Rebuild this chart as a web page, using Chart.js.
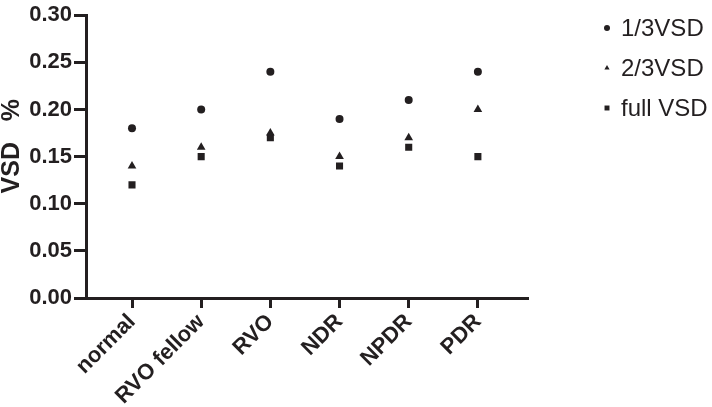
<!DOCTYPE html>
<html>
<head>
<meta charset="utf-8">
<script src="https://cdn.jsdelivr.net/npm/chart.js"></script>
<style>
  html, body { margin: 0; padding: 0; background: #fff; }
  #wrap { width: 712px; height: 407px; position: relative; }
</style>
</head>
<body>
<div id="wrap"><canvas id="myChart"></canvas></div>
<script>
// data
var categories = ['normal', 'RVO fellow', 'RVO', 'NDR', 'NPDR', 'PDR'];
var seriesNames = ['1/3VSD', '2/3VSD', 'full VSD'];
var vsdThird = [0.18, 0.20, 0.24, 0.19, 0.21, 0.24];
var vsdTwoThird = [0.14, 0.16, 0.175, 0.15, 0.17, 0.20];
var vsdFull = [0.12, 0.15, 0.17, 0.14, 0.16, 0.15];
var yMin = 0, yMax = 0.30, yStep = 0.05;

var ink = '#231f20';
var font = '"Liberation Sans", Arial, Helvetica, sans-serif';

function toPoints(vals) {
  return vals.map(function (v, i) { return { x: i + 1, y: v }; });
}

// legend drawn by hand so the plot keeps its width
var sideLegend = {
  id: 'sideLegend',
  afterDraw: function (chart) {
    var ctx = chart.ctx;
    ctx.save();
    chart.data.datasets.forEach(function (ds, i) {
      var y = 28 + i * 40;
      ctx.fillStyle = ink;
      ctx.strokeStyle = ink;
      Chart.helpers.drawPoint(ctx, {
        pointStyle: ds.pointStyle, radius: ds.pointStyle === 'rect' ? 3.5 : 3, borderWidth: 0
      }, 607, y);
      ctx.font = '24px ' + font;
      ctx.textBaseline = 'middle';
      ctx.textAlign = 'left';
      ctx.fillText(ds.label, 621, y + 1);
    });
    ctx.restore();
  }
};

var ctx = document.getElementById('myChart').getContext('2d');
var chart = new Chart(ctx, {
  type: 'scatter',
  data: {
    datasets: [
      { label: seriesNames[0], data: toPoints(vsdThird), pointStyle: 'circle', pointRadius: 4 },
      { label: seriesNames[1], data: toPoints(vsdTwoThird), pointStyle: 'triangle', pointRadius: 5 },
      { label: seriesNames[2], data: toPoints(vsdFull), pointStyle: 'rect', pointRadius: 5 }
    ].map(function (d) {
      d.backgroundColor = ink;
      d.borderColor = ink;
      d.borderWidth = 0;
      d.pointHoverRadius = d.pointRadius;
      return d;
    })
  },
  options: {
    responsive: true,
    maintainAspectRatio: false,
    animation: false,
    layout: { padding: { top: 15, right: 185, bottom: 0, left: 0 } },
    plugins: {
      legend: { display: false },
      tooltip: { enabled: false }
    },
    scales: {
      x: {
        type: 'linear',
        min: 0.335,
        max: 6.71,
        afterBuildTicks: function (scale) {
          scale.ticks = categories.map(function (c, i) { return { value: i + 1 }; });
        },
        afterFit: function (scale) { scale.height = 109; },
        border: { display: true, width: 3, color: ink },
        grid: { display: true, drawOnChartArea: false, drawTicks: true, tickLength: 10, lineWidth: 3, color: ink },
        ticks: {
          autoSkip: false,
          minRotation: 45,
          maxRotation: 45,
          padding: 1,
          color: ink,
          font: { family: font, size: 22, weight: 'bold' },
          callback: function (v) { return categories[Math.round(v) - 1]; }
        }
      },
      y: {
        min: yMin,
        max: yMax,
        afterFit: function (scale) { scale.width = 86; },
        border: { display: true, width: 3, color: ink },
        grid: { display: true, drawOnChartArea: false, drawTicks: true, tickLength: 12, lineWidth: 3, color: ink },
        ticks: {
          stepSize: yStep,
          padding: 2,
          color: ink,
          font: { family: font, size: 22, weight: 'bold' },
          callback: function (v) { return v.toFixed(2); }
        },
        title: {
          display: true,
          text: '   VSD   %',
          color: ink,
          padding: { top: 0, bottom: 0 },
          font: { family: font, size: 25, weight: 'bold', lineHeight: 1 }
        }
      }
    }
  },
  plugins: [sideLegend]
});
</script>
</body>
</html>
